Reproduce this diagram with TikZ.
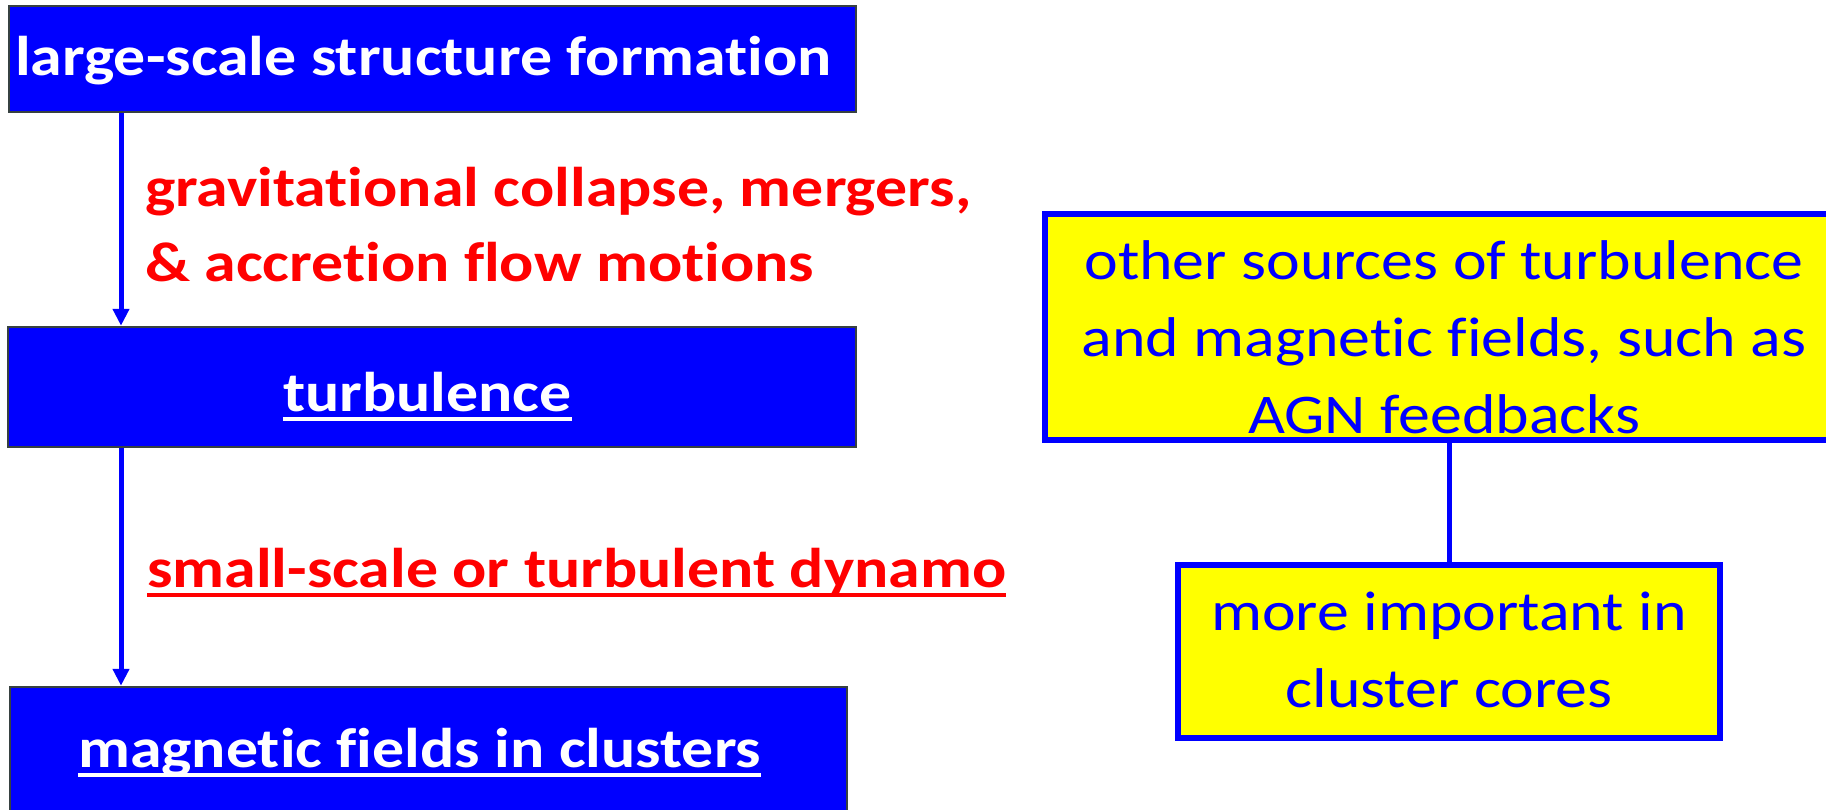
\documentclass[tikz,border=0pt]{standalone}
\usepackage{fontspec}
\setmainfont{Carlito}[Ligatures={NoCommon}, FakeStretch=1.14]
\usetikzlibrary{arrows.meta}
\definecolor{pblue}{RGB}{0,0,255}
\definecolor{pyellow}{RGB}{255,255,0}
\definecolor{pred}{RGB}{255,0,0}
\definecolor{edgegray}{RGB}{55,65,65}
% underline that sits just below the baseline
\newcommand\ulword[1]{\setbox0\hbox{#1}\rlap{\usebox0}\rule[-0.17em]{\wd0}{0.06em}}
\tikzset{
  stagebox/.style={rectangle, fill=pblue, draw=edgegray, line width=2.5pt, inner sep=0pt},
  stagetext/.style={text=white, font=\fontsize{56}{76}\selectfont\bfseries, inner sep=0pt},
  notebox/.style={rectangle, fill=pyellow, draw=pblue, line width=5.5pt, inner sep=0pt},
  notetext/.style={text=pblue, font=\fontsize{56}{77}\selectfont, align=center, inner sep=0pt},
  redlabel/.style={text=pred, font=\fontsize{56}{75}\selectfont\bfseries, align=left, inner sep=0pt},
  flow/.style={draw=pblue, line width=5pt, -{Triangle[length=17pt,width=16pt]}},
  link/.style={draw=pblue, line width=5pt}
}
\begin{document}
\begin{tikzpicture}[x=1pt,y=-1pt]
\useasboundingbox (0,0) rectangle (1826,809);
\clip (0,0) rectangle (1826,809);
\fill[white] (0,0) rectangle (1826,809);

% main chain (multi-line nodes are placed by the baseline of their last line)
\node[stagebox, minimum width=847pt, minimum height=106pt] (lss) at (432.5,59) {};
\node[stagetext, anchor=base west] (lsstext) at (15,75) {large-scale structure formation};
\node[stagebox, minimum width=848pt, minimum height=120pt] (turb) at (432,387) {};
\node[stagetext, anchor=base west] (turbtext) at (283,411) {\ulword{turbulence}};
\node[stagebox, minimum width=837pt, minimum height=131pt] (mag) at (428.5,752.5) {};
\node[stagetext, anchor=base west] (magtext) at (78,767) {\ulword{magnetic fields in clusters}};

\coordinate (ax) at (121,0);
\draw[flow] (lss.south -| ax) -- (turb.north -| ax);
\draw[flow] (turb.south -| ax) -- (mag.north -| ax);

\node[redlabel, anchor=base west] (why) at (145,281)
  {gravitational collapse, mergers,\\ \& accretion flow motions};
\node[redlabel, anchor=base west] (how) at (147,587)
  {\ulword{small-scale or turbulent dynamo}};

% side notes
\node[notebox, minimum width=790pt, minimum height=226pt] (src) at (1440,327) {};
\node[notetext, anchor=base] (srctext) at (1444,433)
  {other sources of turbulence\\ and magnetic fields, such as\\ AGN feedbacks};
\node[notebox, minimum width=542pt, minimum height=173pt] (imp) at (1449,651.5) {};
\node[notetext, anchor=base] (imptext) at (1449,707) {more important in\\ cluster cores};
\draw[link] (src.south -| imp.north) -- (imp.north);
\end{tikzpicture}
\end{document}
